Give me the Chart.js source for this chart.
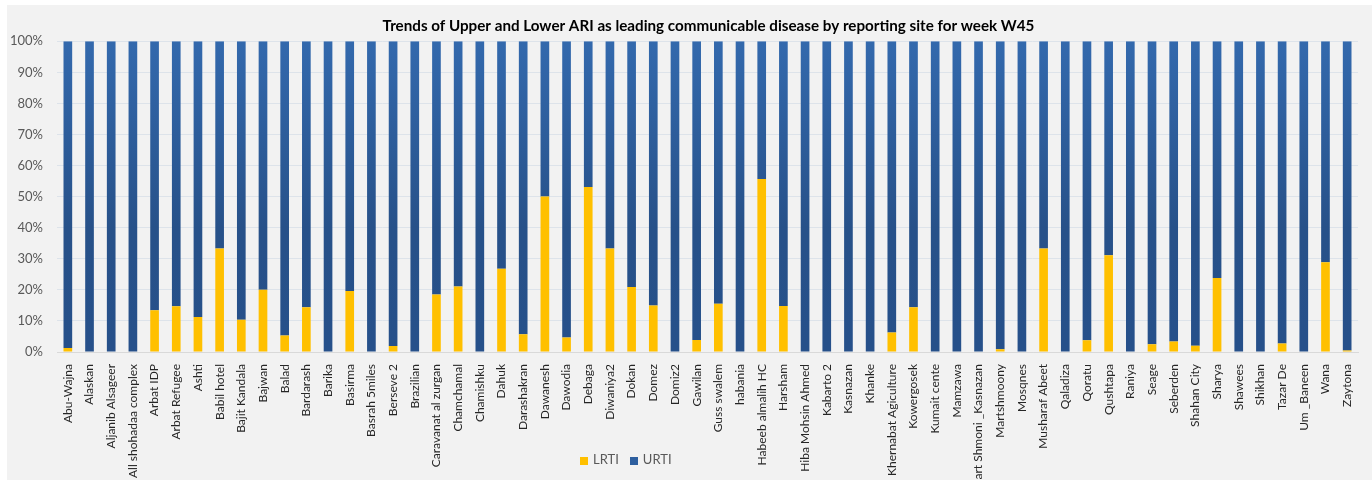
<!DOCTYPE html>
<html>
<head>
<meta charset="utf-8">
<script src="https://cdn.jsdelivr.net/npm/chart.js@4.4.0/dist/chart.umd.min.js"></script>
<style>
  body { margin: 0; background: #ffffff; }
  #wrap { position: absolute; left: 7px; top: 5px; width: 1365px; height: 475px; background: #f2f2f2; }
  #legend { position: absolute; left: 573px; top: 446px; font: 13px Lato, sans-serif; color: #595959; white-space: nowrap; }
  #legend span.item { display: inline-block; margin-right: 11px; }
  #legend span.box { display: inline-block; width: 8px; height: 8px; margin-right: 5px; vertical-align: -1px; }
</style>
</head>
<body>
<div id="wrap">
  <canvas id="chart" width="1365" height="475"></canvas>
  <div id="legend"></div>
</div>
<script>
// sites (x axis)
var sites = ['Abu-Wajna', 'Alaskan', 'Aljanib Alsageer', 'All shohadaa complex', 'Arbat IDP', 'Arbat Refugee',
  'Ashti', 'Babil hotel', 'Bajit Kandala', 'Bajwan', 'Balad', 'Bardarash', 'Barika', 'Basirma', 'Basrah 5miles',
  'Berseve 2', 'Brazilian', 'Caravanat al zurgan', 'Chamchamal', 'Chamishku', 'Dahuk', 'Darashakran', 'Dawanesh',
  'Dawodia', 'Debaga', 'Diwaniya2', 'Dokan', 'Domez', 'Domiz2', 'Gawilan', 'Guss swalem', 'habania',
  'Habeeb almalih HC', 'Harsham', 'Hiba Mohsin Ahmed', 'Kabarto 2', 'Kasnazan', 'Khanke', 'Khernabat Agiculture',
  'Kowergosek', 'Kumait cente', 'Mamzawa', 'Mart Shmoni _Kasnazan', 'Martshmoony', 'Mosqnes', 'Musharaf Abeet',
  'Qaladiza', 'Qoratu', 'Qushtapa', 'Raniya', 'Seage', 'Seberden', 'Shahan City', 'Sharya', 'Shawees', 'Shikhan',
  'Tazar De', 'Um _Baneen', 'Wana', 'Zaytona'];

// % share per site
var lrti = [1.3, 0, 0, 0, 13.4, 14.7, 11.3, 33.3, 10.4, 20, 5.3, 14.4, 0, 19.6, 0,
  1.9, 0, 18.5, 21.1, 0, 26.8, 5.7, 50, 4.7, 53.1, 33.3, 20.9, 15, 0, 3.9, 15.5, 0,
  55.7, 14.8, 0, 0, 0, 0, 6.3, 14.4, 0, 0, 0, 0.9, 0, 33.3, 0, 3.8, 31.1, 0,
  2.5, 3.4, 2, 23.8, 0, 0, 2.7, 0, 28.9, 0.5];
var urti = [98.7, 100, 100, 100, 86.6, 85.3, 88.7, 66.7, 89.6, 80, 94.7, 85.6, 100, 80.4, 100,
  98.1, 100, 81.5, 78.9, 100, 73.2, 94.3, 50, 95.3, 46.9, 66.7, 79.1, 85, 100, 96.1, 84.5, 100,
  44.3, 85.2, 100, 100, 100, 100, 93.7, 85.6, 100, 100, 100, 99.1, 100, 66.7, 100, 96.2, 68.9, 100,
  97.5, 96.6, 98, 76.2, 100, 100, 97.3, 100, 71.1, 99.5];

var titleText = 'Trends of Upper and Lower ARI as leading communicable disease by reporting site for week W45';
var fontFam = 'Lato, "Liberation Sans", sans-serif';

function blueFill(context) {
  var chart = context.chart, area = chart.chartArea;
  if (!area) return '#2c5a97';
  var g = chart.ctx.createLinearGradient(0, area.top, 0, area.bottom);
  g.addColorStop(0, '#3369ad');
  g.addColorStop(0.6, '#275189');
  g.addColorStop(1, '#26508a');
  return g;
}

// the original title sits a little right of centre
var titleShift = {
  id: 'titleShift',
  afterLayout: function (chart) {
    if (chart.titleBlock) chart.titleBlock.left += 52;
  }
};

var chart = new Chart(document.getElementById('chart'), {
  type: 'bar',
  data: {
    labels: sites,
    datasets: [
      { label: 'LRTI', data: lrti, backgroundColor: '#ffc000', legendColor: '#ffc000' },
      { label: 'URTI', data: urti, backgroundColor: blueFill, legendColor: '#2e5f9f' }
    ]
  },
  plugins: [titleShift],
  options: {
    responsive: false,
    animation: false,
    datasets: { bar: { categoryPercentage: 1, barPercentage: 0.4, borderWidth: 0 } },
    layout: { padding: { left: 0, right: 14, bottom: 0 } },
    plugins: {
      legend: { display: false },
      tooltip: { enabled: false },
      title: {
        display: true,
        text: titleText,
        color: '#000000',
        font: { family: fontFam, size: 15.2, weight: 'bold' },
        padding: { top: 12, bottom: 6 }
      }
    },
    scales: {
      x: {
        stacked: true,
        grid: { display: false },
        border: { display: true, color: '#d9d9d9' },
        ticks: {
          autoSkip: false, maxRotation: 90, minRotation: 90, padding: 4,
          color: '#262626', font: { family: fontFam, size: 12 }
        },
        afterFit: function (s) { s.height = 128; }
      },
      y: {
        stacked: true, min: 0, max: 100,
        grid: { color: '#dde3ea', drawTicks: false },
        border: { display: false },
        ticks: {
          stepSize: 10, padding: 14, color: '#595959',
          font: { family: fontFam, size: 13 },
          callback: function (v) { return v + '%'; }
        },
        afterFit: function (s) { s.width = 50; }
      }
    }
  }
});

// legend
var leg = document.getElementById('legend');
chart.data.datasets.forEach(function (ds) {
  var item = document.createElement('span');
  item.className = 'item';
  var box = document.createElement('span');
  box.className = 'box';
  box.style.background = ds.legendColor;
  item.appendChild(box);
  item.appendChild(document.createTextNode(ds.label));
  leg.appendChild(item);
});
</script>
</body>
</html>
